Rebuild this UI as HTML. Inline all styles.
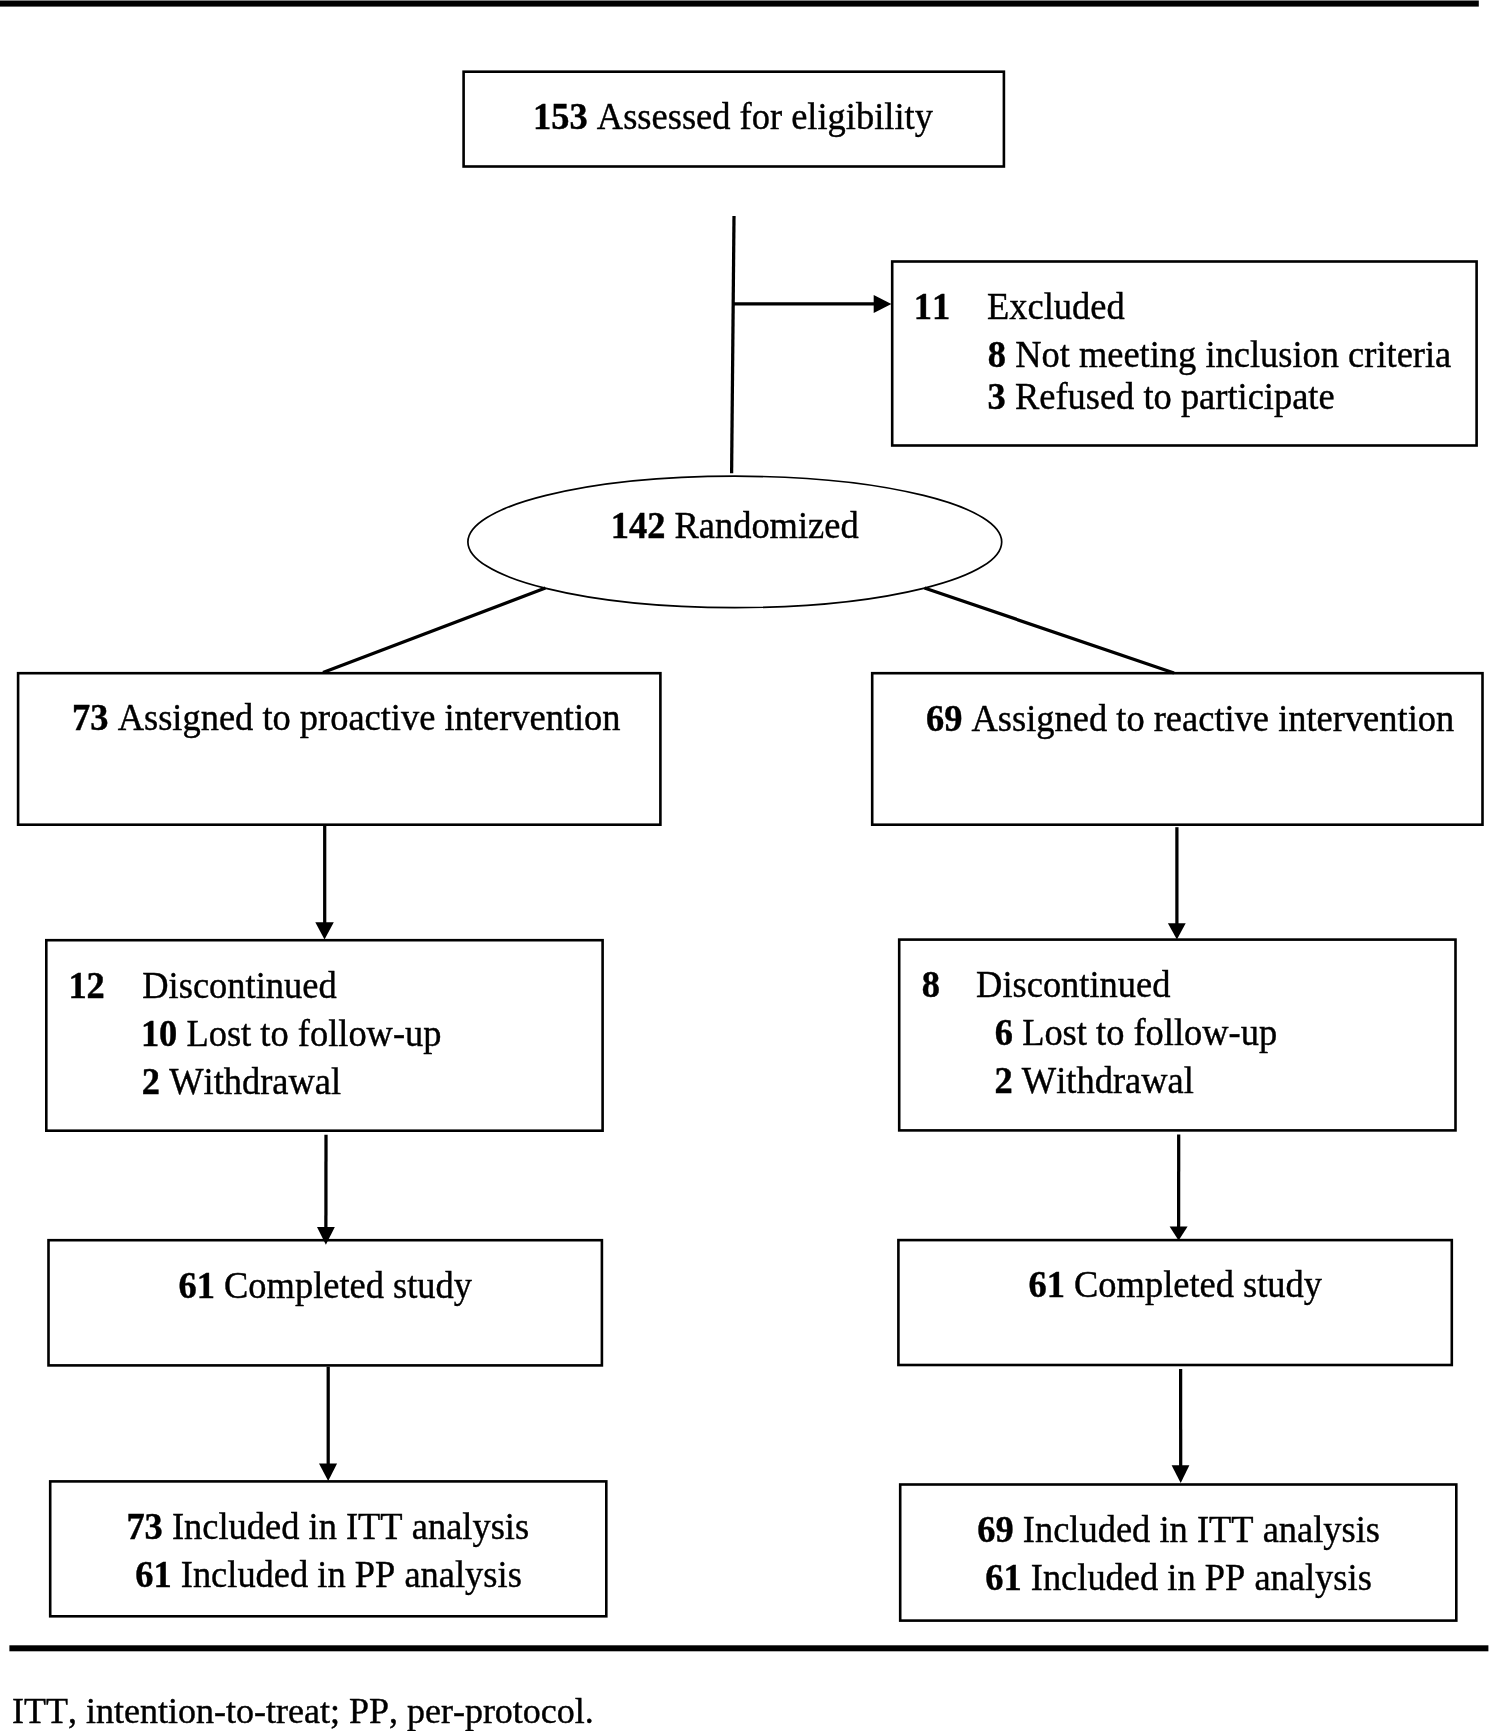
<!DOCTYPE html>
<html><head><meta charset="utf-8"><title>CONSORT flow diagram</title>
<style>
html,body{margin:0;padding:0;background:#fff;}
body{width:1489px;height:1731px;overflow:hidden;position:relative;}
svg{position:absolute;left:0;top:0;display:block;will-change:transform;}
text{font-family:"Liberation Serif",serif;fill:#000;white-space:pre;font-kerning:none;stroke:#000;stroke-width:0.4px;}
.b{font-weight:bold;}
</style></head><body>
<svg width="1489" height="1731" viewBox="0 0 1489 1731">
<rect x="0" y="0.5" width="1478.8" height="6.1" fill="#000"/>
<rect x="9.4" y="1645.3" width="1479" height="6" fill="#000"/>
<rect x="463.60" y="71.70" width="540.30" height="94.80" fill="none" stroke="#000" stroke-width="2.6"/>
<rect x="892.20" y="261.50" width="584.40" height="184.00" fill="none" stroke="#000" stroke-width="2.6"/>
<rect x="18.10" y="673.20" width="642.30" height="151.50" fill="none" stroke="#000" stroke-width="2.6"/>
<rect x="872.20" y="673.20" width="610.30" height="151.50" fill="none" stroke="#000" stroke-width="2.6"/>
<rect x="46.30" y="940.20" width="556.30" height="190.50" fill="none" stroke="#000" stroke-width="2.6"/>
<rect x="899.20" y="939.60" width="556.30" height="190.80" fill="none" stroke="#000" stroke-width="2.6"/>
<rect x="48.50" y="1240.20" width="553.40" height="125.20" fill="none" stroke="#000" stroke-width="2.6"/>
<rect x="898.40" y="1240.10" width="553.40" height="124.90" fill="none" stroke="#000" stroke-width="2.6"/>
<rect x="50.20" y="1481.40" width="556.10" height="134.90" fill="none" stroke="#000" stroke-width="2.6"/>
<rect x="900.20" y="1484.50" width="556.10" height="136.10" fill="none" stroke="#000" stroke-width="2.6"/>
<ellipse cx="734.8" cy="541.9" rx="266.9" ry="65.7" fill="none" stroke="#000" stroke-width="1.7"/>
<line x1="734.0" y1="216.1" x2="731.6" y2="473.2" stroke="#000" stroke-width="3.25"/>
<line x1="732.6" y1="303.8" x2="875" y2="303.8" stroke="#000" stroke-width="3.25"/>
<polygon points="873.7,294.9 891.4,304.0 873.7,312.9" fill="#000"/>
<line x1="545.4" y1="588.0" x2="323.0" y2="672.5" stroke="#000" stroke-width="3.3"/>
<line x1="924.5" y1="588.0" x2="1174.0" y2="673.0" stroke="#000" stroke-width="3.3"/>
<line x1="324.7" y1="826.0" x2="324.7" y2="923.0" stroke="#000" stroke-width="3.25"/>
<polygon points="315.3,922.2 333.8,922.2 324.5,939.5" fill="#000"/>
<line x1="1176.9" y1="827.2" x2="1176.9" y2="924.0" stroke="#000" stroke-width="3.25"/>
<polygon points="1167.9,923.2 1185.7,923.2 1176.9,939.5" fill="#000"/>
<line x1="326.0" y1="1134.8" x2="325.9" y2="1228.0" stroke="#000" stroke-width="3.25"/>
<polygon points="317.0,1226.9 334.8,1226.9 325.9,1244.7" fill="#000"/>
<line x1="1178.7" y1="1134.5" x2="1178.6" y2="1228.0" stroke="#000" stroke-width="3.25"/>
<polygon points="1169.6,1226.6 1187.6,1226.6 1178.6,1240.5" fill="#000"/>
<line x1="328.2" y1="1366.7" x2="328.2" y2="1464.5" stroke="#000" stroke-width="3.25"/>
<polygon points="319.0,1463.5 337.1,1463.5 328.2,1481.0" fill="#000"/>
<line x1="1180.6" y1="1369.1" x2="1180.7" y2="1466.0" stroke="#000" stroke-width="3.25"/>
<polygon points="1171.6,1465.2 1189.4,1465.2 1180.7,1483.0" fill="#000"/>
<text transform="translate(533.10 129.00) scale(1 1.045)" font-size="36.45"><tspan class="b">153</tspan><tspan> Assessed for eligibility</tspan></text>
<text transform="translate(913.83 318.85) scale(1 1.045)" font-size="36.45"><tspan class="b">11</tspan></text>
<text transform="translate(987.10 318.85) scale(1 1.045)" font-size="36.45"><tspan>Excluded</tspan></text>
<text transform="translate(987.80 367.30) scale(1 1.045)" font-size="36.45"><tspan class="b">8</tspan><tspan> Not meeting inclusion criteria</tspan></text>
<text transform="translate(987.60 409.10) scale(1 1.045)" font-size="36.45"><tspan class="b">3</tspan><tspan> Refused to participate</tspan></text>
<text transform="translate(610.70 538.10) scale(1 1.045)" font-size="36.45"><tspan class="b">142</tspan><tspan> Randomized</tspan></text>
<text transform="translate(72.10 730.00) scale(1 1.045)" font-size="36.45"><tspan class="b">73</tspan><tspan> Assigned to proactive intervention</tspan></text>
<text transform="translate(926.00 730.60) scale(1 1.045)" font-size="36.45"><tspan class="b">69</tspan><tspan> Assigned to reactive intervention</tspan></text>
<text transform="translate(68.38 997.60) scale(1 1.045)" font-size="36.45"><tspan class="b">12</tspan></text>
<text transform="translate(142.30 997.60) scale(1 1.045)" font-size="36.45"><tspan>Discontinued</tspan></text>
<text transform="translate(140.90 1046.00) scale(1 1.045)" font-size="36.45"><tspan class="b">10</tspan><tspan> Lost to follow-up</tspan></text>
<text transform="translate(141.80 1094.00) scale(1 1.045)" font-size="36.45"><tspan class="b">2</tspan><tspan> Withdrawal</tspan></text>
<text transform="translate(921.70 997.20) scale(1 1.045)" font-size="36.45"><tspan class="b">8</tspan></text>
<text transform="translate(976.10 997.20) scale(1 1.045)" font-size="36.45"><tspan>Discontinued</tspan></text>
<text transform="translate(994.80 1045.20) scale(1 1.045)" font-size="36.45"><tspan class="b">6</tspan><tspan> Lost to follow-up</tspan></text>
<text transform="translate(994.50 1092.80) scale(1 1.045)" font-size="36.45"><tspan class="b">2</tspan><tspan> Withdrawal</tspan></text>
<text transform="translate(178.50 1297.90) scale(1 1.045)" font-size="36.45"><tspan class="b">61</tspan><tspan> Completed study</tspan></text>
<text transform="translate(1028.50 1297.20) scale(1 1.045)" font-size="36.45"><tspan class="b">61</tspan><tspan> Completed study</tspan></text>
<text transform="translate(126.40 1539.20) scale(1 1.045)" font-size="36.45"><tspan class="b">73</tspan><tspan> Included in ITT analysis</tspan></text>
<text transform="translate(135.20 1586.90) scale(1 1.045)" font-size="36.45"><tspan class="b">61</tspan><tspan> Included in PP analysis</tspan></text>
<text transform="translate(977.30 1541.60) scale(1 1.045)" font-size="36.45"><tspan class="b">69</tspan><tspan> Included in ITT analysis</tspan></text>
<text transform="translate(985.20 1590.00) scale(1 1.045)" font-size="36.45"><tspan class="b">61</tspan><tspan> Included in PP analysis</tspan></text>
<text transform="translate(12.00 1723.40) scale(1 1.0)" font-size="36.0">ITT, intention-to-treat; PP, per-protocol.</text>
</svg>
</body></html>
